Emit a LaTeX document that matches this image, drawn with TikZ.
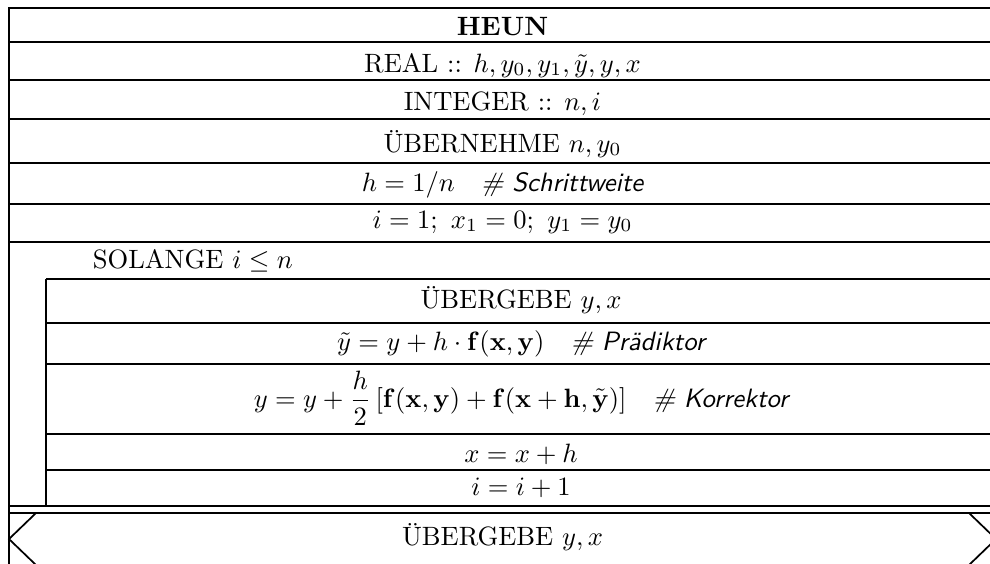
\documentclass[tikz,border=0pt]{standalone}
\usepackage{amsmath}
\begin{document}
\begin{tikzpicture}[x=0.377pt,y=-0.377pt,line width=0.65pt,
  txt/.style={anchor=base,inner sep=0pt},
  cmt/.style={font=\sffamily\itshape}]
\useasboundingbox (0,0) rectangle (990,563);
\clip (0,0) rectangle (990,563);
% outer frame
\draw (996,8) -- (9,8) -- (9,565);
\draw (996,8) -- (996,565);
\foreach \yy in {42,80,119,163,204,242} \draw (9,\yy) -- (996,\yy);
% loop body
\draw (46,279) -- (996,279);
\draw (46,279) -- (46,506);
\foreach \yy in {323,364,434,470} \draw (46,\yy) -- (996,\yy);
\draw (9,506) -- (996,506);
% output box
\draw (9,513) -- (996,513);
\draw (9,565) -- (996,565);
\draw (36,513) -- (9,539) -- (36,565);
\draw (969,513) -- (996,539) -- (969,565);
% texts
\node[txt] (t1) at (502.5,35) {\textbf{HEUN}};
\node[txt] (t2) at (502.5,72) {REAL :: $h, y_0, y_1, \tilde{y}, y, x$};
\node[txt] (t3) at (502.5,110) {INTEGER :: $n, i$};
\node[txt] (t4) at (502.5,152) {ÜBERNEHME $n, y_0$};
\node[txt] (t5) at (502.5,191) {$h = 1/n$\quad{\sffamily\itshape \# Schrittweite}};
\node[txt] (t6) at (502.5,228) {$i = 1;\ x_1 = 0;\ y_1 = y_0$};
\node[txt,anchor=base west] (t7) at (92,268) {SOLANGE $i \le n$};
\node[txt] (t8) at (521,308) {ÜBERGEBE $y, x$};
\node[txt] (t9) at (521,350) {$\tilde{y} = y + h \cdot \mathbf{f}(\mathbf{x},\mathbf{y})$\quad{\sffamily\itshape \# Prädiktor}};
\node[txt] (t10) at (521,407) {$\displaystyle y = y + \frac{h}{2}\,[\mathbf{f}(\mathbf{x},\mathbf{y}) + \mathbf{f}(\mathbf{x}+\mathbf{h},\tilde{\mathbf{y}})]$\quad{\sffamily\itshape \# Korrektor}};
\node[txt] (t11) at (521,462) {$x = x + h$};
\node[txt] (t12) at (521,495) {$i = i + 1$};
\node[txt] (t13) at (502.5,545) {ÜBERGEBE $y, x$};
\end{tikzpicture}
\end{document}
